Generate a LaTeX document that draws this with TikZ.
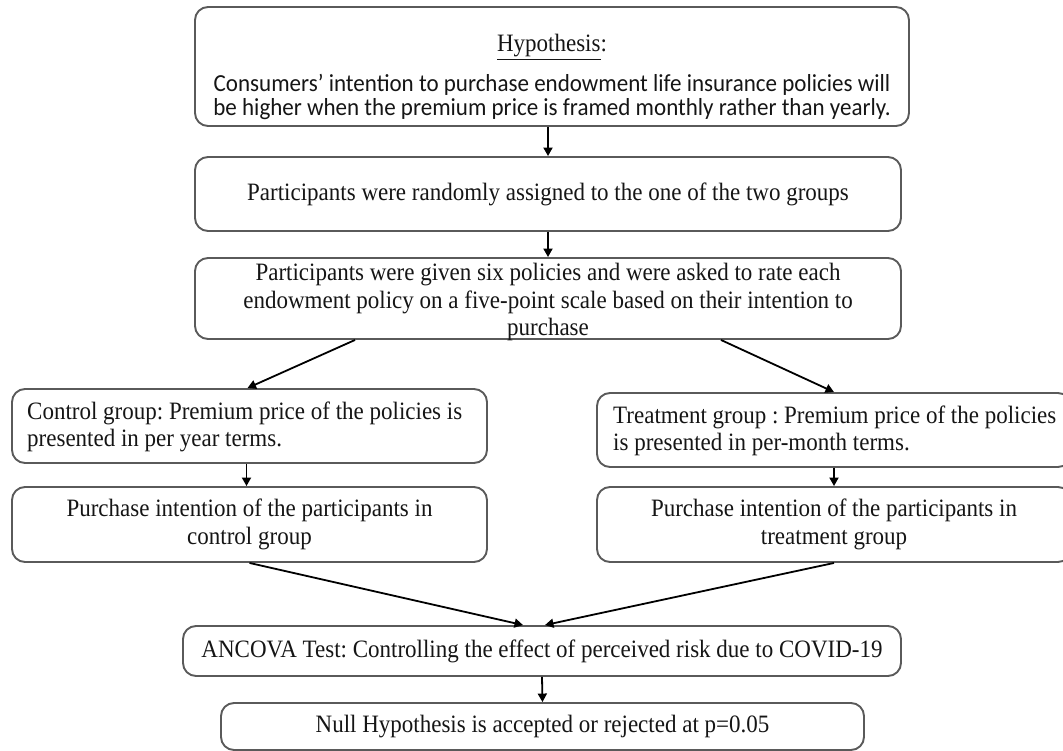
\documentclass[tikz,border=0pt]{standalone}
\usepackage{fontspec}
\setmainfont{Liberation Serif}[FakeStretch=0.92]
\newfontfamily\calibri{Carlito}[FakeStretch=0.94]
\usetikzlibrary{arrows.meta,calc}

\definecolor{edge}{HTML}{5A5A5A}
\definecolor{ink}{HTML}{151515}

\tikzset{
  box/.style={draw=edge, line width=1.9pt, rounded corners=13pt, inner sep=0pt,
              text=ink, font=\fontsize{25}{27.5}\selectfont},
  boxtext/.style={text=ink, font=\fontsize{25}{27.5}\selectfont, inner sep=0pt},
  arr/.style={draw=black, line width=1.8pt,
              -{Triangle[length=8.5pt,width=9pt]}},
}

\begin{document}
\frenchspacing
\begin{tikzpicture}[x=1pt,y=-1pt]
\useasboundingbox (0,0) rectangle (1063,751);

% hypothesis box: heading in serif, statement in sans
\node[box, minimum width=714, minimum height=119] (hyp) at (552,66.5) {};
\node[boxtext, anchor=center] (hyphead) at (552,47) {\underline{Hypothesis}:};
\node[boxtext, anchor=center, align=center, font=\calibri\fontsize{24.5}{24}\selectfont]
  (hypbody) at (552,97)
  {Consumers’ intention to purchase endowment life insurance policies will\\
   be higher when the premium price is framed monthly rather than yearly.};

\node[box, minimum width=706, minimum height=74] (assign) at (548,194)
  {Participants were randomly assigned to the one of the two groups};

\node[box, minimum width=706, minimum height=81] (rate) at (548,298.5) {};
\node[boxtext, align=center, anchor=center] (ratetext) at (548,302)
  {Participants were given six policies and were asked to rate each\\
   endowment policy on a five-point scale based on their intention to\\
   purchase};

% the two groups, statements set flush left
\node[box, minimum width=475, minimum height=74] (ctrl) at (249.5,426) {};
\node[boxtext, align=left, anchor=west] (ctrltext) at (27,427)
  {Control group: Premium price of the policies is\\presented in per year terms.};
\node[box, minimum width=474, minimum height=74] (treat) at (834,430) {};
\node[boxtext, align=left, anchor=west] (treattext) at (613,431)
  {Treatment group : Premium price of the policies\\is presented in per-month terms.};

\node[box, minimum width=475, minimum height=75, align=center] (pctrl) at (249.5,524.5)
  {Purchase intention of the participants in\\control group};
\node[box, minimum width=474, minimum height=75, align=center] (ptreat) at (834,524.5)
  {Purchase intention of the participants in\\treatment group};

% analysis
\node[box, minimum width=718, minimum height=50] (ancova) at (542,651)
  {ANCOVA Test: Controlling the effect of perceived risk due to COVID-19};
\node[box, minimum width=643, minimum height=47] (null) at (542.5,726.5)
  {Null Hypothesis is accepted or rejected at p=0.05};

% connectors
\draw[arr] (assign.north |- hyp.south) -- (assign.north);
\draw[arr] (assign.south) -- (rate.north);
\draw[arr] ($(rate.south west)+(161,0)$) -- ($(ctrl.north)+(-2,0)$);
\draw[arr] ($(rate.south east)+(-181,0)$) -- (treat.north);
\draw[arr] ($(ctrl.south)+(-3,0)$) -- ($(pctrl.north)+(-3,0)$);
\draw[arr] (treat.south) -- (ptreat.north);
\draw[arr] (pctrl.south) -- ($(ancova.north)+(-19,0)$);
\draw[arr] (ptreat.south) -- ($(ancova.north)+(3,0)$);
\draw[arr] (ancova.south) -- (null.north);
\end{tikzpicture}
\end{document}
